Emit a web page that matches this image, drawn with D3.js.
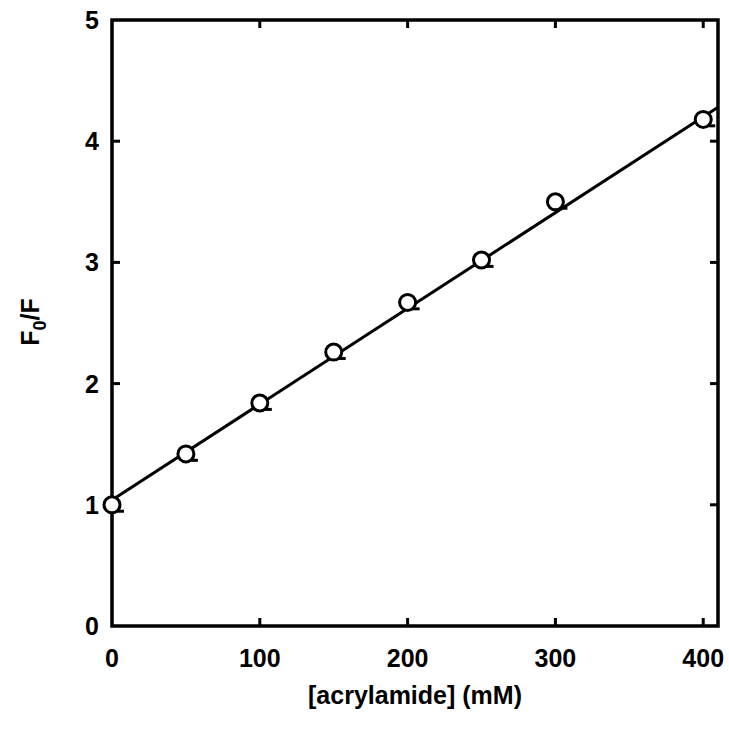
<!DOCTYPE html>
<html>
<head>
<meta charset="utf-8">
<script src="https://cdn.jsdelivr.net/npm/d3@7"></script>
<style>
  body { margin: 0; background: #fff; }
  text { font-family: "Liberation Sans", Arial, sans-serif; font-weight: bold; fill: #000; }
</style>
</head>
<body>
<svg class="chart"></svg>
<script>
// data
let conc = [0, 50, 100, 150, 200, 250, 300, 400];
let ratio = [1.00, 1.42, 1.84, 2.26, 2.67, 3.02, 3.50, 4.18];
let err = [0.02, 0.02, 0.02, 0.02, 0.02, 0.02, 0.02, 0.02];

// linear fit end points
let fitX = [0, 410];
let fitY = [1.04, 4.28];

let xTicks = [0, 100, 200, 300, 400];
let yTicks = [0, 1, 2, 3, 4, 5];

let svg_width = 729;
let svg_height = 732;

let margin_left = 112;
let margin_top = 20;
let chart_width = 606;
let chart_height = 606;

let svg = d3.select('.chart')
  .attr('width', svg_width)
  .attr('height', svg_height);

let scaleX = d3.scaleLinear()
  .domain([0, 410])
  .range([0, chart_width]);

let scaleY = d3.scaleLinear()
  .domain([0, 5])
  .range([chart_height, 0]);

let g = svg.append('g')
  .attr('transform', translate(margin_left, margin_top));

// inner ticks on all four sides
let tickLen = 8;
let innerX = xTicks.filter(d => d > 0);
let innerY = yTicks.filter(d => d > 0 && d < 5);

g.selectAll('.tick-b')
  .data(innerX)
  .enter()
  .append('line')
  .attr('x1', d => scaleX(d)).attr('x2', d => scaleX(d))
  .attr('y1', chart_height).attr('y2', chart_height - tickLen);

g.selectAll('.tick-t')
  .data(innerX)
  .enter()
  .append('line')
  .attr('x1', d => scaleX(d)).attr('x2', d => scaleX(d))
  .attr('y1', 0).attr('y2', tickLen);

g.selectAll('.tick-l')
  .data(innerY)
  .enter()
  .append('line')
  .attr('x1', 0).attr('x2', tickLen)
  .attr('y1', d => scaleY(d)).attr('y2', d => scaleY(d));

g.selectAll('.tick-r')
  .data(innerY)
  .enter()
  .append('line')
  .attr('x1', chart_width).attr('x2', chart_width - tickLen)
  .attr('y1', d => scaleY(d)).attr('y2', d => scaleY(d));

g.selectAll('line')
  .attr('stroke', '#000')
  .attr('stroke-width', 3);

// frame
g.append('rect')
  .attr('x', 0).attr('y', 0)
  .attr('width', chart_width).attr('height', chart_height)
  .attr('fill', 'none')
  .attr('stroke', '#000')
  .attr('stroke-width', 3.5);

// tick labels
g.selectAll('.xlab')
  .data(xTicks)
  .enter()
  .append('text')
  .attr('x', d => scaleX(d))
  .attr('y', chart_height + 41)
  .attr('text-anchor', 'middle')
  .attr('font-size', 25)
  .text(d => d);

g.selectAll('.ylab')
  .data(yTicks)
  .enter()
  .append('text')
  .attr('x', -13)
  .attr('y', d => scaleY(d) + 9)
  .attr('text-anchor', 'end')
  .attr('font-size', 25)
  .text(d => d);

// fit line
let line = d3.line()
  .x(d => scaleX(d[0]))
  .y(d => scaleY(d[1]));

g.append('path')
  .datum(d3.zip(fitX, fitY))
  .attr('d', line)
  .attr('fill', 'none')
  .attr('stroke', '#000')
  .attr('stroke-width', 3);

// error bar caps
let pts = d3.zip(conc, ratio, err);

g.selectAll('.cap')
  .data(pts)
  .enter()
  .append('line')
  .attr('x1', d => scaleX(d[0]) - 2)
  .attr('x2', d => scaleX(d[0]) + 12)
  .attr('y1', d => scaleY(d[1] - d[2]) + 4)
  .attr('y2', d => scaleY(d[1] - d[2]) + 4)
  .attr('stroke', '#000')
  .attr('stroke-width', 3);

// points
g.selectAll('circle')
  .data(pts)
  .enter()
  .append('circle')
  .attr('cx', d => scaleX(d[0]))
  .attr('cy', d => scaleY(d[1]))
  .attr('r', 8)
  .attr('fill', '#fff')
  .attr('stroke', '#000')
  .attr('stroke-width', 3);

// axis titles
svg.append('text')
  .attr('x', margin_left + chart_width / 2)
  .attr('y', 704)
  .attr('text-anchor', 'middle')
  .attr('font-size', 25)
  .text('[acrylamide] (mM)');

let yt = svg.append('text')
  .attr('transform', translate(39, 322) + ' rotate(-90)')
  .attr('text-anchor', 'middle')
  .attr('font-size', 25);
yt.append('tspan').text('F');
yt.append('tspan').attr('dy', 7).attr('font-size', 18).text('0');
yt.append('tspan').attr('dy', -7).text('/F');

function translate(x, y) {
  return 'translate(' + x + ',' + y + ')';
}
</script>
</body>
</html>
